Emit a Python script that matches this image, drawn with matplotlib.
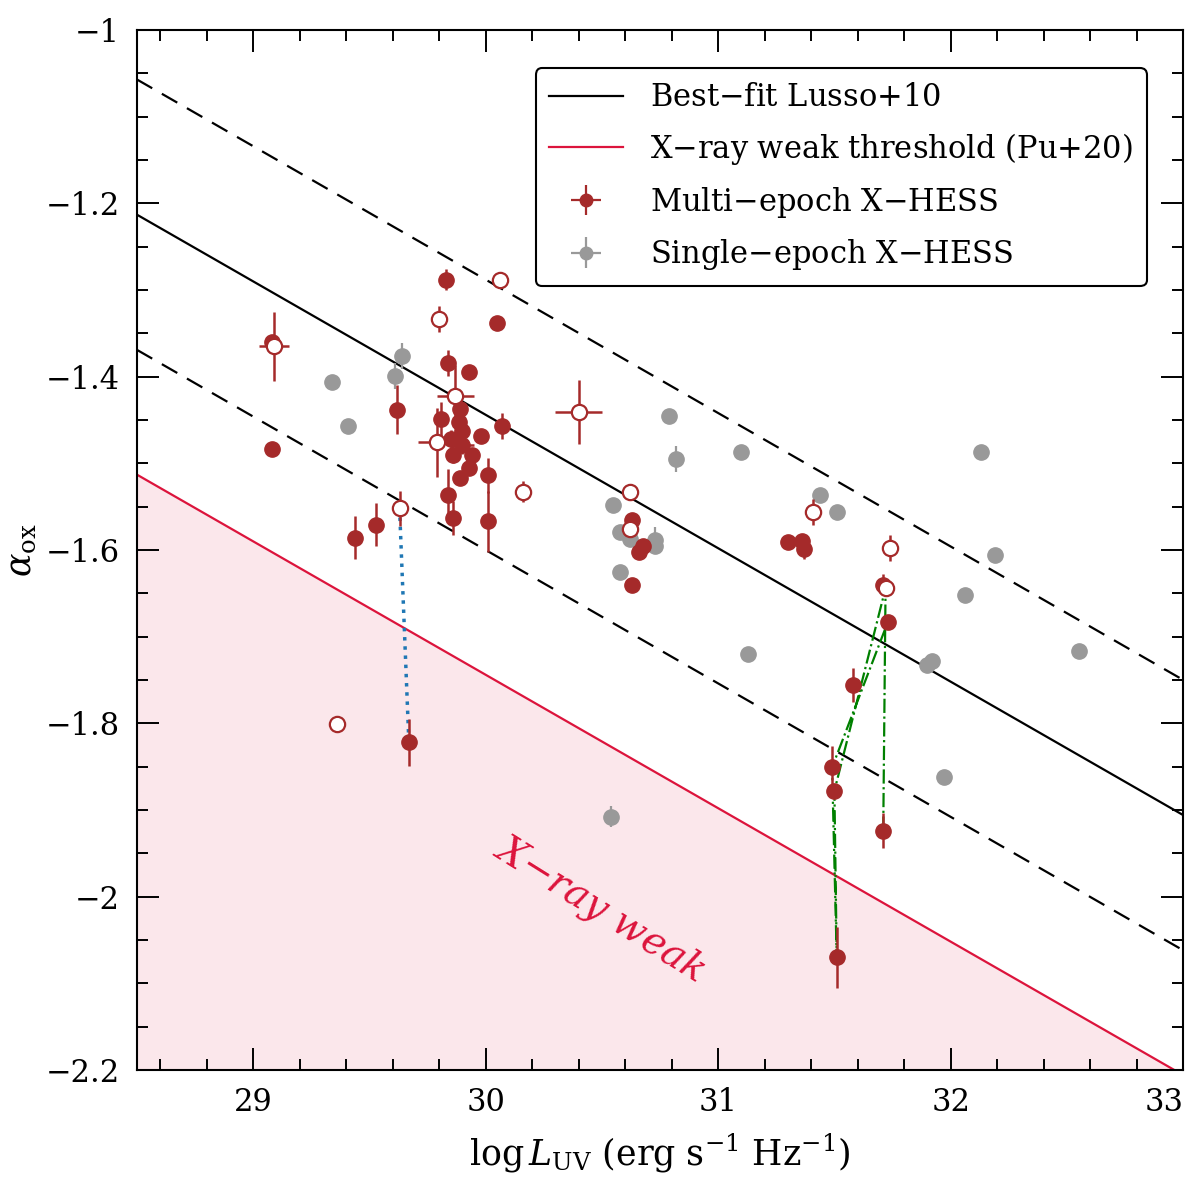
import numpy as np
import matplotlib
matplotlib.use("Agg")
import matplotlib.pyplot as plt
from matplotlib.ticker import MultipleLocator

plt.rcParams['font.family'] = ['DejaVu Serif']
plt.rcParams['mathtext.fontset'] = 'dejavuserif'

# Multi-epoch X-HESS, filled symbols
multi_x = [29.83, 30.05, 29.84, 29.93, 29.62, 29.08, 29.81, 29.89, 29.886, 29.90,
           29.85, 29.90, 29.98, 30.07, 29.86, 29.94, 29.93, 29.89, 30.01, 29.84,
           29.86, 30.01, 29.53, 29.44, 29.08, 30.63, 30.66, 30.675, 30.63, 31.30,
           31.36, 31.37, 31.71, 31.73, 31.58, 31.49, 31.50, 31.71, 31.51, 29.67]
multi_y = [-1.288, -1.338, -1.384, -1.395, -1.438, -1.483, -1.449, -1.437, -1.452, -1.463,
           -1.472, -1.479, -1.468, -1.457, -1.490, -1.490, -1.506, -1.517, -1.514, -1.537,
           -1.563, -1.567, -1.571, -1.586, -1.360, -1.566, -1.602, -1.596, -1.640, -1.591,
           -1.590, -1.599, -1.640, -1.683, -1.756, -1.851, -1.878, -1.924, -2.070, -1.822]
multi_yerr = [0.012, 0, 0.015, 0, 0.028, 0, 0.02, 0.015, 0.015, 0.015,
              0.01, 0.01, 0, 0.015, 0.01, 0, 0, 0, 0.02, 0.03,
              0.02, 0.035, 0.025, 0.025, 0, 0, 0, 0, 0, 0,
              0, 0.012, 0.012, 0, 0.02, 0.025, 0, 0.02, 0.035, 0.027]
multi_xerr = [0, 0, 0, 0, 0, 0, 0, 0, 0, 0,
              0, 0.05, 0, 0, 0, 0, 0, 0, 0, 0,
              0, 0, 0, 0, 0, 0, 0, 0, 0, 0,
              0, 0, 0, 0, 0, 0, 0, 0, 0, 0]

# Multi-epoch X-HESS, open symbols
open_x = [30.06, 29.80, 29.09, 29.87, 29.79, 30.16, 29.63, 30.40, 30.62, 30.62,
          31.41, 31.74, 31.72, 29.36]
open_y = [-1.288, -1.334, -1.365, -1.422, -1.476, -1.533, -1.552, -1.441, -1.533, -1.576,
          -1.556, -1.598, -1.644, -1.801]
open_yerr = [0, 0.015, 0.04, 0.035, 0.04, 0.012, 0.02, 0.037, 0, 0,
             0.015, 0.015, 0, 0]
open_xerr = [0, 0, 0.065, 0.08, 0.08, 0.035, 0, 0.1, 0, 0,
             0, 0, 0, 0]

# Single-epoch X-HESS
single_x = [29.34, 29.41, 29.64, 29.61, 30.79, 30.82, 31.10, 30.55, 30.58, 30.62,
            30.73, 30.73, 30.58, 31.44, 31.51, 32.13, 32.19, 32.06, 31.13, 31.90,
            31.92, 32.55, 30.54, 31.97]
single_y = [-1.406, -1.457, -1.376, -1.399, -1.445, -1.495, -1.487, -1.548, -1.579, -1.587,
            -1.588, -1.596, -1.625, -1.537, -1.556, -1.487, -1.606, -1.652, -1.720, -1.733,
            -1.728, -1.717, -1.908, -1.862]
single_yerr = [0, 0, 0.015, 0.015, 0, 0.015, 0, 0, 0, 0,
               0.015, 0, 0, 0, 0, 0, 0, 0, 0, 0,
               0, 0, 0.012, 0]
single_xerr = [0, 0, 0.02, 0, 0, 0.02, 0, 0, 0, 0,
               0, 0, 0, 0, 0, 0, 0, 0, 0, 0,
               0, 0, 0, 0]

# tracks of variable sources
blue_x = [29.63, 29.67]
blue_y = [-1.552, -1.822]
green_x = [31.71, 31.72, 31.50, 31.51, 31.49, 31.73]
green_y = [-1.924, -1.644, -1.878, -2.070, -1.851, -1.683]

# relations
slope = -0.154
intercept = 3.176
scatter = 0.156
weak_offset = -0.3

red_dark = '#a52a2a'
crimson = '#dc143c'

fig = plt.figure(figsize=(12, 11.77), dpi=100)
ax = fig.add_axes([0.114, 0.091, 0.872, 0.8835])

xx = np.array([28.5, 33.0])
fit = slope * xx + intercept
ax.plot(xx, fit, color='black', lw=1.6, label='Best$-$fit Lusso+10', zorder=2)
ax.plot(xx, fit + scatter, color='black', lw=1.6, ls=(0, (8, 5)), zorder=2)
ax.plot(xx, fit - scatter, color='black', lw=1.6, ls=(0, (8, 5)), zorder=2)
ax.plot(xx, fit + weak_offset, color=crimson, lw=1.6,
        label='X$-$ray weak threshold (Pu+20)', zorder=2)
ax.fill_between(xx, fit + weak_offset, -3, color=crimson, alpha=0.1, lw=0, zorder=1)

ax.text(30.49, -2.015, 'X$-$ray weak', color=crimson, fontsize=28, style='italic',
        rotation=-32, ha='center', va='center')

ax.plot(blue_x, blue_y, color='#1f77b4', ls=':', lw=2.5, zorder=3)
ax.plot(green_x, green_y, color='green', ls='-.', lw=1.6, zorder=3)

ax.errorbar(single_x, single_y, yerr=single_yerr, xerr=single_xerr, fmt='o',
            color='#999999', ms=11, elinewidth=1.6, capsize=0, zorder=4)
ax.errorbar(multi_x, multi_y, yerr=multi_yerr, xerr=multi_xerr, fmt='o',
            color=red_dark, ms=11, elinewidth=1.8, capsize=0, zorder=5)
ax.errorbar(open_x, open_y, yerr=open_yerr, xerr=open_xerr, fmt='o',
            color=red_dark, mfc='white', mec=red_dark, mew=1.6, ms=11,
            elinewidth=1.8, capsize=0, zorder=6)

# legend proxies
h_multi = ax.errorbar([], [], yerr=[], xerr=[], fmt='o', color=red_dark, ms=9,
                      elinewidth=1.6, capsize=0)
h_single = ax.errorbar([], [], yerr=[], xerr=[], fmt='o', color='#999999', ms=9,
                       elinewidth=1.6, capsize=0)
handles, labels = ax.get_legend_handles_labels()
leg = ax.legend(handles[:2] + [h_multi, h_single],
                labels[:2] + ['Multi$-$epoch X$-$HESS', 'Single$-$epoch X$-$HESS'],
                loc='upper right', bbox_to_anchor=(0.965, 0.963), fontsize=22,
                frameon=True, fancybox=True, handlelength=2.4, handletextpad=0.9,
                labelspacing=0.58, borderpad=0.45, borderaxespad=0.0)
leg.get_frame().set_edgecolor('black')
leg.get_frame().set_linewidth(1.5)
leg.get_frame().set_alpha(1)

ax.set_xlim(28.5, 33)
ax.set_ylim(-2.2, -1)
ax.xaxis.set_major_locator(MultipleLocator(1))
ax.xaxis.set_minor_locator(MultipleLocator(0.2))
ax.yaxis.set_major_locator(MultipleLocator(0.2))
ax.yaxis.set_minor_locator(MultipleLocator(0.05))
ax.tick_params(which='both', direction='in', top=True, right=True, labelsize=22, width=1.4)
ax.tick_params(which='major', length=16, pad=12)
ax.tick_params(which='minor', length=8)
ax.yaxis.set_major_formatter(plt.FuncFormatter(lambda v, p: ('%g' % v).replace('-', '\u2212')))
for s in ax.spines.values():
    s.set_linewidth(1.5)
# keep the last x label inside the canvas
ax.get_xticklabels()[-1].set_horizontalalignment('center')
fig.canvas.draw()
last = [t for t in ax.get_xticklabels() if t.get_text() == '33']
for t in last:
    t.set_horizontalalignment('right')
    t.set_x(33.0)

ax.set_xlabel(r'$\log L_{\rm UV}$ (erg s$^{-1}$ Hz$^{-1}$)', fontsize=25, labelpad=10)
ax.set_ylabel(r'$\alpha_{\rm ox}$', fontsize=25, labelpad=6)

fig.savefig('out.png', dpi=100)
